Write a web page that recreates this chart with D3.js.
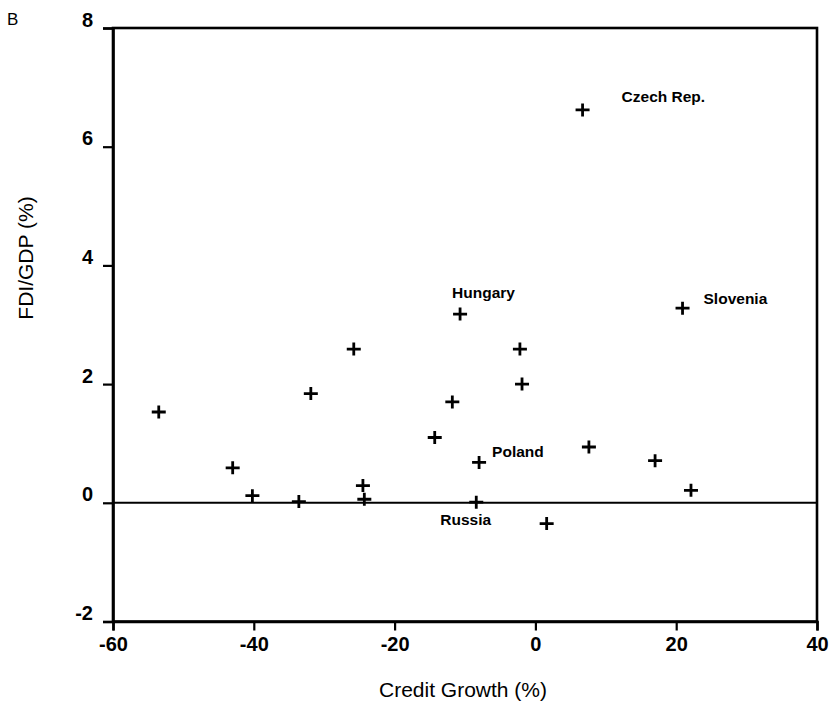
<!DOCTYPE html>
<html>
<head>
<meta charset="utf-8">
<script src="https://cdn.jsdelivr.net/npm/d3@7"></script>
<style>
  body { margin: 0; background: #fff; }
  svg { display: block; font-family: "Liberation Sans", Arial, sans-serif; }
</style>
</head>
<body>
<div id="scatter"></div>
<script>
// data
var creditGrowth = [-53.5, -43.0, -40.2, -33.6, -31.9, -25.8, -24.5, -24.3, -14.3, -11.8,
  -10.7, -8.4, -8.0, -2.2, -1.9, 1.6, 6.7, 7.6, 17.0, 20.9, 22.1];
var fdiGdp = [1.53, 0.59, 0.12, 0.02, 1.84, 2.59, 0.29, 0.06, 1.10, 1.70,
  3.18, 0.01, 0.68, 2.59, 2.00, -0.35, 6.62, 0.94, 0.71, 3.28, 0.21];
var countries = ["", "", "", "", "", "", "", "", "", "",
  "Hungary", "Russia", "Poland", "", "", "", "Czech Rep.", "", "", "Slovenia", ""];
var xTicks = [-60, -40, -20, 0, 20, 40];
var yTicks = [-2, 0, 2, 4, 6, 8];

var points = creditGrowth.map(function(d, i) {
  return {x: d, y: fdiGdp[i], name: countries[i]};
});

// label offsets from the marker
var labelOffset = {
  "Hungary": [-8, -16],
  "Russia": [-36, 23],
  "Poland": [13, -5],
  "Czech Rep.": [39, -8],
  "Slovenia": [21, -4]
};

var margin = {top: 28, right: 16, bottom: 85, left: 113},
    width = 817 - margin.left,
    height = 621.5 - margin.top;

var svg = d3.select("#scatter")
  .append("svg")
    .attr("width", 833)
    .attr("height", 706)
  .append("g")
    .attr("transform", "translate(" + margin.left + "," + margin.top + ")");

var x = d3.scaleLinear().domain([-60, 40]).range([0, width]);
var y = d3.scaleLinear().domain([-2, 8]).range([height, 0]);

// plain hyphen for negatives, like the original
var fmt = function(d) { return String(d); };

// frame
svg.append("rect")
  .attr("width", width)
  .attr("height", height)
  .attr("fill", "none")
  .attr("stroke", "#000")
  .attr("stroke-width", 2.6);

// zero line
svg.append("line")
  .attr("x1", 0).attr("x2", width)
  .attr("y1", y(0)).attr("y2", y(0))
  .attr("stroke", "#000")
  .attr("stroke-width", 2);

// X axis
var xAxis = svg.append("g")
  .attr("transform", "translate(0," + height + ")")
  .call(d3.axisBottom(x).tickValues(xTicks).tickFormat(fmt).tickSize(9).tickPadding(6));

// Y axis
var yAxis = svg.append("g")
  .call(d3.axisLeft(y).tickValues(yTicks).tickFormat(fmt).tickSize(10).tickPadding(10));

[xAxis, yAxis].forEach(function(a) {
  a.select(".domain").attr("stroke-width", 2.6);
  a.selectAll(".tick line").attr("stroke-width", 2.2);
  a.selectAll(".tick text")
    .attr("font-family", "'Liberation Sans', Arial, sans-serif")
    .attr("font-size", "20px")
    .attr("font-weight", "bold")
    .attr("fill", "#000");
});
yAxis.selectAll(".tick text").attr("dy", "-0.1em");

// crosses
svg.append("g")
  .selectAll("path")
  .data(points)
  .enter()
  .append("path")
    .attr("transform", function(d) { return "translate(" + x(d.x) + "," + y(d.y) + ")"; })
    .attr("d", "M-7,0H7M0,-6.5V6.5")
    .attr("stroke", "#000")
    .attr("stroke-width", 2.8)
    .attr("fill", "none");

// country labels
svg.append("g")
  .selectAll("text")
  .data(points.filter(function(d) { return d.name !== ""; }))
  .enter()
  .append("text")
    .text(function(d) { return d.name; })
    .attr("x", function(d) { return x(d.x) + labelOffset[d.name][0]; })
    .attr("y", function(d) { return y(d.y) + labelOffset[d.name][1]; })
    .attr("font-size", "15.5px")
    .attr("font-weight", "bold")
    .attr("fill", "#000");

// axis titles
svg.append("text")
  .attr("x", x(-10) - 2)
  .attr("y", height + 75)
  .attr("text-anchor", "middle")
  .attr("font-size", "21px")
  .text("Credit Growth (%)");

svg.append("text")
  .attr("transform", "translate(" + (33 - margin.left) + "," + (258 - margin.top) + ") rotate(-90)")
  .attr("text-anchor", "middle")
  .attr("font-size", "21px")
  .text("FDI/GDP (%)");

// panel letter
svg.append("text")
  .attr("x", 7 - margin.left)
  .attr("y", 25 - margin.top)
  .attr("font-size", "17px")
  .text("B");
</script>
</body>
</html>
